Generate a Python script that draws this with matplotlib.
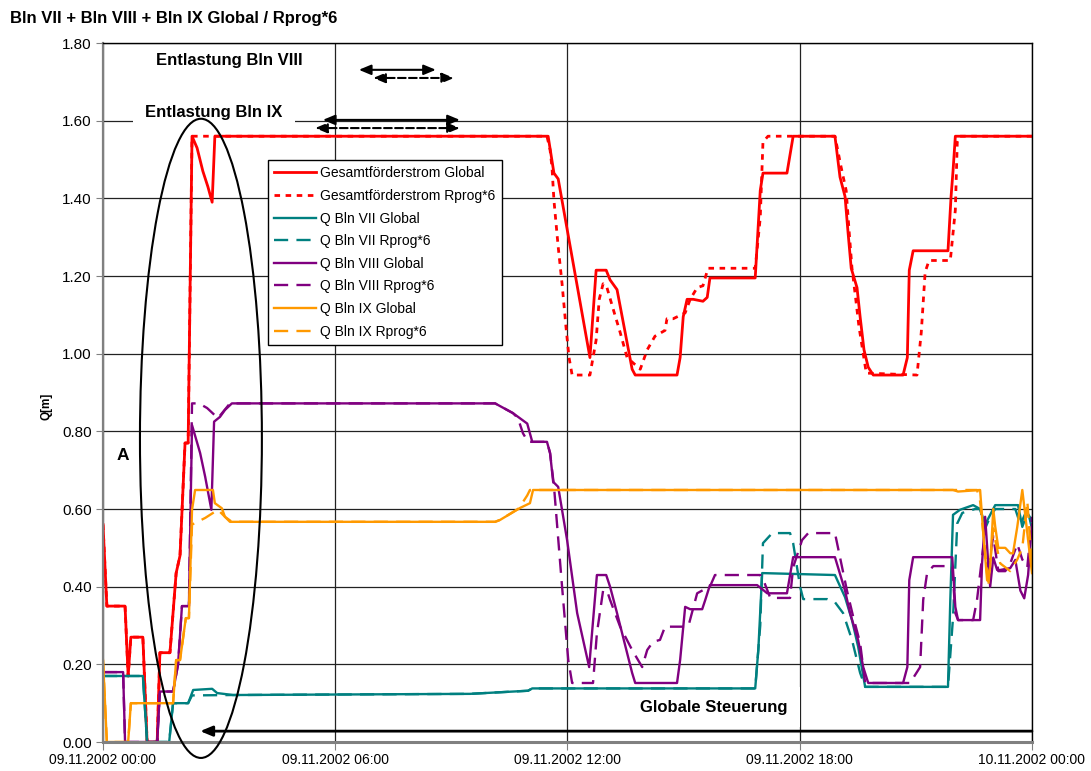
import matplotlib
matplotlib.use("Agg")
import matplotlib.pyplot as plt
import matplotlib.dates as mdates
import pandas as pd
from matplotlib.patches import Ellipse

plt.rcParams["font.family"] = ["Liberation Sans", "DejaVu Sans"]

START = pd.Timestamp("2002-11-09 00:00")

# hours after 09.11.2002 00:00 and Q[m] values
gf_global_h = [0, 0.10, 0.57, 0.65, 0.72, 1.03, 1.14, 1.40, 1.47, 1.73,
               1.89, 1.99, 2.12, 2.20, 2.30, 2.43, 2.58, 2.71, 2.82, 2.89,
               11.50, 11.65, 11.76, 12.58, 12.74, 13.00, 13.10, 13.28, 13.67, 13.75,
               14.83, 14.91, 14.99, 15.09, 15.25, 15.50, 15.61, 15.68, 16.85, 16.98,
               17.05, 17.16, 17.67, 17.83, 18.91, 19.04, 19.17, 19.25, 19.33, 19.48,
               19.56, 19.66, 19.77, 19.90, 20.67, 20.78, 20.83, 20.93, 21.83, 21.91,
               21.96, 22.02, 24.0]
gf_global = [0.56, 0.35, 0.35, 0.17, 0.27, 0.27, 0.0, 0.0, 0.23, 0.23,
             0.435, 0.48, 0.77, 0.77, 1.56, 1.53, 1.47, 1.43, 1.39, 1.56,
             1.56, 1.465, 1.45, 0.99, 1.215, 1.215, 1.19, 1.165, 0.96, 0.945,
             0.945, 0.99, 1.095, 1.14, 1.14, 1.135, 1.145, 1.195, 1.195, 1.42,
             1.465, 1.465, 1.465, 1.56, 1.56, 1.455, 1.405, 1.31, 1.22, 1.17,
             1.095, 1.01, 0.965, 0.945, 0.945, 0.99, 1.215, 1.265, 1.265, 1.405,
             1.47, 1.56, 1.56]

gf_rprog_h = [0, 0.10, 0.57, 0.65, 0.72, 1.03, 1.14, 1.40, 1.47, 1.73,
              1.89, 1.99, 2.12, 2.20, 2.30, 11.47, 11.55, 11.60, 11.65, 11.76,
              11.86, 11.96, 12.04, 12.12, 12.58, 12.74, 12.82, 12.92, 13.02, 13.18,
              13.36, 13.54, 13.88, 14.06, 14.26, 14.52, 14.57, 14.73, 15.04, 15.17,
              15.35, 15.50, 15.63, 16.85, 16.98, 17.05, 17.18, 18.91, 19.07, 19.20,
              19.28, 19.35, 19.43, 19.53, 19.64, 19.72, 21.03, 21.14, 21.24, 21.34,
              21.89, 22.02, 22.07, 22.14, 24.0]
gf_rprog = [0.56, 0.35, 0.35, 0.17, 0.27, 0.27, 0.0, 0.0, 0.23, 0.23,
            0.435, 0.48, 0.77, 0.77, 1.56, 1.56, 1.525, 1.48, 1.395, 1.275,
            1.18, 1.07, 0.99, 0.945, 0.945, 1.035, 1.14, 1.18, 1.17, 1.115,
            1.055, 0.99, 0.96, 1.01, 1.045, 1.06, 1.09, 1.09, 1.105, 1.14,
            1.17, 1.175, 1.22, 1.22, 1.35, 1.545, 1.56, 1.56, 1.48, 1.42,
            1.31, 1.22, 1.155, 1.07, 1.0, 0.95, 0.945, 1.055, 1.21, 1.24,
            1.24, 1.37, 1.545, 1.56, 1.56]

q7_global_h = [0, 1.03, 1.14, 1.71, 1.81, 2.20, 2.25, 2.33, 2.82, 2.95,
               3.36, 9.48, 10.98, 11.09, 16.85, 16.93, 17.03, 18.91, 19.17, 19.35,
               19.51, 19.69, 21.83, 21.89, 21.96, 22.14, 22.48, 22.66, 22.79, 22.92,
               23.05, 23.64, 23.75, 23.88, 24.0]
q7_global = [0.17, 0.17, 0.0, 0.0, 0.10, 0.10, 0.113, 0.134, 0.137, 0.126,
             0.121, 0.124, 0.132, 0.138, 0.138, 0.237, 0.435, 0.43, 0.373, 0.314,
             0.245, 0.142, 0.142, 0.366, 0.585, 0.598, 0.61, 0.60, 0.56, 0.585,
             0.61, 0.61, 0.554, 0.59, 0.57]

q7_rprog_h = [0, 1.03, 1.14, 1.71, 1.81, 2.20, 2.30, 3.36, 9.48, 10.98,
              11.09, 16.85, 16.98, 17.05, 17.29, 17.75, 17.83, 18.01, 18.09, 18.71,
              18.91, 19.12, 19.35, 19.56, 19.69, 21.83, 21.96, 22.07, 22.20, 22.53,
              22.66, 22.79, 22.92, 23.05, 23.57, 23.70, 23.88, 24.0]
q7_rprog = [0.17, 0.17, 0.0, 0.0, 0.10, 0.10, 0.12, 0.121, 0.124, 0.132,
            0.138, 0.138, 0.30, 0.512, 0.538, 0.538, 0.512, 0.40, 0.368, 0.368,
            0.36, 0.332, 0.263, 0.178, 0.142, 0.142, 0.32, 0.563, 0.59, 0.60,
            0.60, 0.55, 0.58, 0.60, 0.60, 0.56, 0.60, 0.55]

q8_global_h = [0, 0.52, 0.57, 1.40, 1.47, 1.81, 1.94, 2.04, 2.22, 2.30,
               2.51, 2.64, 2.80, 2.87, 3.02, 3.15, 3.33, 10.13, 10.59, 10.96,
               11.09, 11.47, 11.55, 11.63, 11.76, 11.99, 12.25, 12.56, 12.76, 13.00,
               13.10, 13.28, 13.67, 13.75, 14.83, 14.91, 15.04, 15.17, 15.48, 15.56,
               15.68, 16.90, 17.16, 17.67, 17.83, 18.91, 19.17, 19.30, 19.51, 19.64,
               19.77, 20.67, 20.78, 20.83, 20.93, 21.94, 22.02, 22.09, 22.66, 22.71,
               22.79, 22.87, 22.92, 23.00, 23.10, 23.18, 23.44, 23.57, 23.70, 23.80,
               23.90, 23.95, 24.0]
q8_global = [0.18, 0.18, 0.0, 0.0, 0.13, 0.13, 0.20, 0.35, 0.35, 0.816,
             0.744, 0.683, 0.598, 0.825, 0.837, 0.855, 0.872, 0.872, 0.847, 0.82,
             0.773, 0.773, 0.744, 0.67, 0.657, 0.52, 0.332, 0.193, 0.43, 0.43,
             0.40, 0.332, 0.178, 0.152, 0.152, 0.211, 0.348, 0.342, 0.342, 0.366,
             0.404, 0.404, 0.383, 0.383, 0.476, 0.476, 0.39, 0.332, 0.262, 0.193,
             0.152, 0.152, 0.193, 0.417, 0.476, 0.476, 0.348, 0.314, 0.314, 0.46,
             0.58, 0.46, 0.40, 0.475, 0.443, 0.443, 0.448, 0.469, 0.39, 0.37,
             0.43, 0.50, 0.56]

q8_rprog_h = [0, 0.52, 0.57, 1.40, 1.47, 1.81, 1.94, 2.04, 2.22, 2.30,
              2.48, 2.69, 2.97, 3.28, 10.13, 10.59, 10.72, 10.85, 10.98, 11.47,
              11.55, 11.65, 11.86, 12.02, 12.12, 12.66, 12.76, 12.92, 13.02, 13.10,
              13.36, 13.67, 13.93, 14.06, 14.21, 14.39, 14.52, 14.83, 15.12, 15.35,
              15.48, 15.68, 15.81, 16.98, 17.05, 17.24, 17.75, 17.83, 18.06, 18.22,
              18.91, 19.22, 19.38, 19.56, 19.69, 20.85, 21.11, 21.19, 21.29, 21.45,
              21.94, 22.02, 22.09, 22.48, 22.58, 22.74, 22.87, 23.00, 23.13, 23.31,
              23.44, 23.62, 23.75, 23.88, 24.0]
q8_rprog = [0.18, 0.18, 0.0, 0.0, 0.13, 0.13, 0.20, 0.35, 0.35, 0.872,
            0.872, 0.86, 0.834, 0.872, 0.872, 0.847, 0.834, 0.795, 0.773, 0.773,
            0.744, 0.66, 0.40, 0.211, 0.152, 0.152, 0.28, 0.39, 0.39, 0.366,
            0.297, 0.237, 0.193, 0.237, 0.258, 0.263, 0.297, 0.297, 0.297, 0.383,
            0.39, 0.40, 0.43, 0.43, 0.42, 0.371, 0.371, 0.45, 0.52, 0.538,
            0.538, 0.39, 0.323, 0.255, 0.152, 0.152, 0.193, 0.366, 0.435, 0.453,
            0.453, 0.332, 0.314, 0.314, 0.366, 0.50, 0.45, 0.53, 0.44, 0.44,
            0.46, 0.51, 0.47, 0.45, 0.58]

q9_global_h = [0, 0.10, 0.65, 0.72, 1.81, 1.89, 1.99, 2.14, 2.22, 2.30,
               2.38, 2.84, 2.89, 3.07, 3.15, 3.28, 10.13, 10.26, 10.78, 11.03,
               11.11, 21.96, 22.09, 22.66, 22.74, 22.84, 22.92, 23.00, 23.05, 23.13,
               23.31, 23.44, 23.51, 23.62, 23.75, 23.82, 23.90, 24.0]
q9_global = [0.211, 0.0, 0.0, 0.10, 0.10, 0.211, 0.211, 0.319, 0.319, 0.598,
             0.649, 0.649, 0.615, 0.602, 0.58, 0.567, 0.567, 0.572, 0.603, 0.615,
             0.649, 0.649, 0.645, 0.649, 0.54, 0.417, 0.45, 0.60, 0.555, 0.50,
             0.50, 0.486, 0.486, 0.554, 0.649, 0.59, 0.52, 0.435]

q9_rprog_h = [0, 0.10, 0.65, 0.72, 1.81, 1.89, 1.99, 2.14, 2.22, 2.30,
              2.64, 2.97, 3.15, 3.33, 10.13, 10.26, 10.72, 10.83, 10.96, 11.03,
              22.58, 22.66, 22.79, 22.87, 23.00, 23.05, 23.18, 23.44, 23.62, 23.75,
              23.88, 24.0]
q9_rprog = [0.211, 0.0, 0.0, 0.10, 0.10, 0.211, 0.211, 0.319, 0.319, 0.56,
            0.577, 0.598, 0.58, 0.567, 0.567, 0.572, 0.60, 0.615, 0.635, 0.649,
            0.649, 0.62, 0.49, 0.40, 0.55, 0.52, 0.46, 0.44, 0.47, 0.50,
            0.62, 0.45]

RED = "#FF0000"
TEAL = "#008080"
PURPLE = "#800080"
ORANGE = "#FF9900"


def to_time(hours):
    return START + pd.to_timedelta(hours, unit="h")


def xnum(h):
    return mdates.date2num(START + pd.Timedelta(hours=h))


fig = plt.figure(figsize=(10.91, 7.71), dpi=100)
ax = fig.add_axes([0.0944, 0.0376, 0.8515, 0.9066])
ax.set_axisbelow(True)

dot = (2.0, 2.0)
dash = (6.0, 3.5)
series = [
    (gf_global_h, gf_global, RED, None, 2.0, "Gesamtförderstrom Global"),
    (gf_rprog_h, gf_rprog, RED, dot, 2.0, "Gesamtförderstrom Rprog*6"),
    (q7_global_h, q7_global, TEAL, None, 1.7, "Q Bln VII Global"),
    (q7_rprog_h, q7_rprog, TEAL, dash, 1.7, "Q Bln VII Rprog*6"),
    (q8_global_h, q8_global, PURPLE, None, 1.7, "Q Bln VIII Global"),
    (q8_rprog_h, q8_rprog, PURPLE, dash, 1.7, "Q Bln VIII Rprog*6"),
    (q9_global_h, q9_global, ORANGE, None, 1.7, "Q Bln IX Global"),
    (q9_rprog_h, q9_rprog, ORANGE, dash, 1.7, "Q Bln IX Rprog*6"),
]
for hours, vals, col, dashes, lw, label in series:
    line, = ax.plot(to_time(hours), vals, color=col, linewidth=lw, label=label,
                    solid_joinstyle="round")
    if dashes is not None:
        line.set_dashes(dashes)

ax.set_xlim(START, START + pd.Timedelta(hours=24))
ax.set_ylim(0, 1.8)
ax.set_yticks([i * 0.2 for i in range(10)])
ax.yaxis.set_major_formatter(matplotlib.ticker.FormatStrFormatter("%.2f"))
ax.xaxis.set_major_locator(mdates.HourLocator(byhour=[0, 6, 12, 18]))
ax.xaxis.set_major_formatter(mdates.DateFormatter("%d.%m.%Y %H:%M"))

ax.grid(True, color="#222222", linewidth=0.9)
for side in ["top", "right"]:
    ax.spines[side].set_color("black")
    ax.spines[side].set_linewidth(1.0)
ax.spines["left"].set_color("#808080")
ax.spines["left"].set_linewidth(1.6)
ax.spines["bottom"].set_color("#808080")
ax.spines["bottom"].set_linewidth(2.2)
ax.tick_params(axis="y", direction="out", length=5, color="#808080", labelsize=11, pad=3)
ax.tick_params(axis="x", direction="out", length=6, color="#808080", labelsize=10, pad=2)

ax.set_ylabel("Q[m]", fontsize=8.5, fontweight="bold")
ax.yaxis.set_label_coords(-0.054, 0.48)

fig.text(0.009, 1 - 18 / 771, "Bln VII + Bln VIII + Bln IX Global / Rprog*6",
         fontsize=12, fontweight="bold", va="center", ha="left")

leg = ax.legend(loc="upper left", bbox_to_anchor=(0.1776, 0.8326), borderaxespad=0,
                fontsize=10, frameon=True, fancybox=False, framealpha=1,
                edgecolor="black", handlelength=3.0, handletextpad=0.3,
                labelspacing=0.62, borderpad=0.45)
leg.get_frame().set_linewidth(1.0)
leg.set_zorder(6)

# annotations
ell = Ellipse((xnum(2.53), 0.782), width=3.15 / 24, height=1.646, fill=False,
              edgecolor="black", linewidth=1.5, clip_on=False, zorder=5)
ax.add_patch(ell)

ax.text(xnum(3.26), 1.756, "Entlastung Bln VIII", fontsize=12, fontweight="bold",
        ha="center", va="center")
ax.text(xnum(2.87), 1.622, "Entlastung Bln IX", fontsize=12, fontweight="bold",
        ha="center", va="center", zorder=1.6,
        bbox=dict(facecolor="white", edgecolor="none", pad=9))
ax.text(xnum(0.50), 0.737, "A", fontsize=12.5, fontweight="bold",
        ha="center", va="center")
ax.text(xnum(15.79), 0.089, "Globale Steuerung", fontsize=12, fontweight="bold",
        ha="center", va="center", zorder=1.6,
        bbox=dict(facecolor="white", edgecolor="none", pad=9))

arrows = [
    (6.61, 8.60, 1.731, "-"),
    (6.98, 9.07, 1.710, "--"),
    (5.68, 9.22, 1.602, "-"),
    (5.48, 9.22, 1.581, "--"),
]
for h1, h2, y, ls in arrows:
    ax.annotate("", xy=(xnum(h2), y), xytext=(xnum(h1), y),
                arrowprops=dict(arrowstyle="<|-|>,head_length=0.6,head_width=0.25",
                                color="black", lw=1.5, linestyle=ls,
                                shrinkA=0, shrinkB=0, mutation_scale=12),
                zorder=4)

ax.annotate("", xy=(xnum(2.51), 0.028), xytext=(xnum(24.0), 0.028),
            arrowprops=dict(arrowstyle="-|>,head_length=0.6,head_width=0.25",
                            color="black", lw=2.0, shrinkA=0, shrinkB=0,
                            mutation_scale=12),
            zorder=4)

fig.savefig("out.png", dpi=100)
